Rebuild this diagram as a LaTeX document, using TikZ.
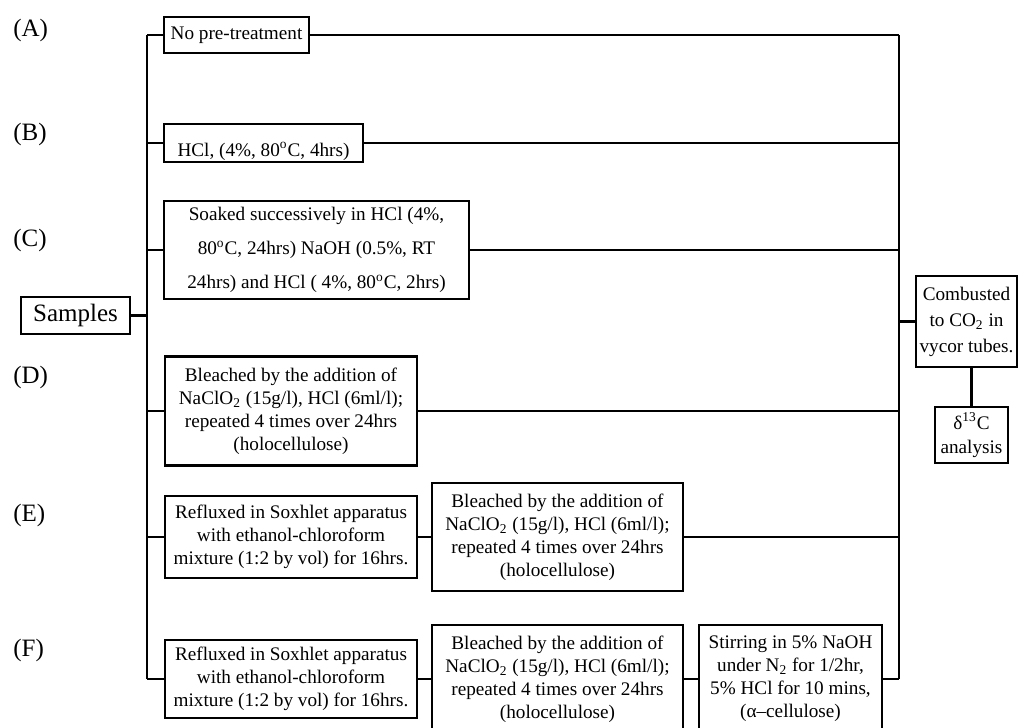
\documentclass[tikz,border=0pt]{standalone}
\usepackage{fontspec}
\setmainfont{Liberation Serif}
\begin{document}
\begin{tikzpicture}[x=0.5pt,y=-0.5pt, line width=1.3pt,
  box/.style={draw, line width=1.3pt, inner sep=0pt, align=center, font=\fontsize{9.6}{11.5}\selectfont},
  lab/.style={anchor=west, inner sep=0pt, font=\fontsize{12.5}{14}\selectfont}]
\useasboundingbox (0,0) rectangle (1018,728);
\clip (0,0) rectangle (1018,728);
% labels
\node[lab] (la) at (12,30) {(A)};
\node[lab] (lb) at (12,134) {(B)};
\node[lab] (lc) at (12,240) {(C)};
\node[lab] (ld) at (12,377) {(D)};
\node[lab] (le) at (12,515) {(E)};
\node[lab] (lf) at (12,650) {(F)};
% boxes
\node[box, font=\fontsize{12.5}{14}\selectfont, minimum width=54.5pt, minimum height=18.5pt] (S) at (75.5,315.5) {Samples};
\node[box, minimum width=72.5pt, minimum height=18pt] (A) at (236.5,35) {No pre-treatment};
\node[box, minimum width=99.5pt, minimum height=19pt] (B) at (263.5,143) {\raisebox{-6.5pt}[0pt][0pt]{HCl, (4\%, 80\textsuperscript{o}C, 4hrs)}};
\node[box, font=\fontsize{9.6}{17}\selectfont, minimum width=152.5pt, minimum height=49pt] (C) at (316.5,250) {Soaked successively in HCl (4\%,\\ 80\textsuperscript{o}C, 24hrs) NaOH (0.5\%, RT\\ 24hrs) and HCl ( 4\%, 80\textsuperscript{o}C, 2hrs)};
\node[box, minimum width=126pt, minimum height=54.5pt] (D) at (291,411) {Bleached by the addition of\\ NaClO\textsubscript{2} (15g/l), HCl (6ml/l);\\ repeated 4 times over 24hrs\\ (holocellulose)};
\node[box, minimum width=126pt, minimum height=41pt] (E1) at (291,537) {Refluxed in Soxhlet apparatus\\ with ethanol-chloroform\\ mixture (1:2 by vol) for 16hrs.};
\node[box, minimum width=125.5pt, minimum height=54pt] (E2) at (557.5,537) {Bleached by the addition of\\ NaClO\textsubscript{2} (15g/l), HCl (6ml/l);\\ repeated 4 times over 24hrs\\ (holocellulose)};
\node[box, minimum width=126pt, minimum height=39pt] (F1) at (291,679) {Refluxed in Soxhlet apparatus\\ with ethanol-chloroform\\ mixture (1:2 by vol) for 16hrs.};
\node[box, minimum width=125.5pt, minimum height=54pt] (F2) at (557.5,679) {Bleached by the addition of\\ NaClO\textsubscript{2} (15g/l), HCl (6ml/l);\\ repeated 4 times over 24hrs\\ (holocellulose)};
\node[box, minimum width=91.5pt, minimum height=54pt] (F3) at (790.5,679) {Stirring in 5\% NaOH\\ under N\textsubscript{2} for 1/2hr,\\ 5\% HCl for 10 mins,\\ (α–cellulose)};
\node[box, font=\fontsize{9.6}{13}\selectfont, minimum width=50.5pt, minimum height=45.5pt] (K) at (966.5,321.5) {Combusted\\ to CO\textsubscript{2} in\\ vycor tubes.};
\node[box, font=\fontsize{9.6}{12}\selectfont, minimum width=36.5pt, minimum height=28pt] (Dl) at (971.5,435) {δ\textsuperscript{13}C\\ analysis};
% trunks
\coordinate (LT) at (147,35);
\coordinate (LB) at (147,679);
\coordinate (RT) at (899,35);
\coordinate (RB) at (899,679);
\draw (LT) -- (LB);
\draw (RT) -- (RB);
\draw (S.east) -- (S.east -| LT);
\foreach \n in {A,B,C,D,E1,F1} \draw (\n.west) -- (\n.west -| LT);
\foreach \n in {A,B,C,D,E2,F3} \draw (\n.east) -- (\n.east -| RT);
\draw (E1.east) -- (E2.west);
\draw (F1.east) -- (F2.west);
\draw (F2.east) -- (F3.west);
\draw (K.west) -- (K.west -| RT);
\draw (K.south -| Dl.north) -- (Dl.north);
\end{tikzpicture}
\end{document}
